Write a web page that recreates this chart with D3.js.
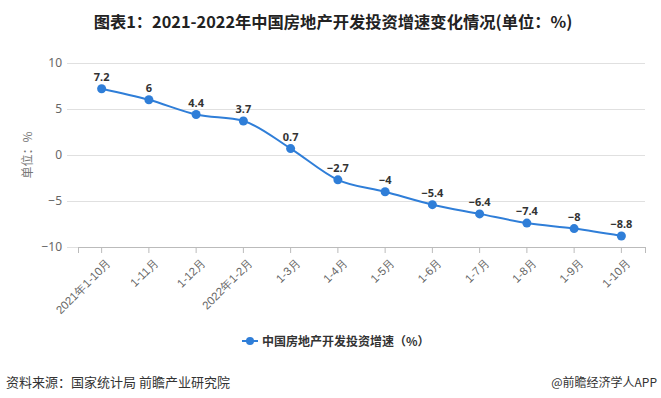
<!DOCTYPE html>
<html><head><meta charset="utf-8">
<script src="https://cdn.jsdelivr.net/npm/d3@7"></script>
<style>body{margin:0;background:#fff;}svg{display:block;font-family:"Noto Sans CJK SC","Noto Sans",sans-serif;}</style>
</head><body><svg id="c" width="661" height="398"></svg>
<script>
const categories = ["2021年1-10月","1-11月","1-12月","2022年1-2月","1-3月","1-4月","1-5月","1-6月","1-7月","1-8月","1-9月","1-10月"];
const values = [7.2, 6, 4.4, 3.7, 0.7, -2.7, -4, -5.4, -6.4, -7.4, -8, -8.8];
const yTicks = [10, 5, 0, -5, -10];
const seriesName = "中国房地产开发投资增速（%）";
const color = "#2f7ed8";

const svg = d3.select("#c");
svg.append("rect").attr("width",661).attr("height",398).attr("fill","#fff");

const x = d3.scaleBand().domain(categories).range([78, 645]);
const y = d3.scaleLinear().domain([-10, 10]).range([247, 63]);

// title
svg.append("text").attr("x", 333).attr("y", 28).attr("text-anchor","middle")
  .attr("font-size", 16.3).attr("font-weight","bold").attr("fill","#222")
  .text("图表1：2021-2022年中国房地产开发投资增速变化情况(单位：%)");

// gridlines
svg.append("g").selectAll("line").data(yTicks).join("line")
  .attr("x1", 67).attr("x2", 645).attr("y1", d=>y(d)).attr("y2", d=>y(d))
  .attr("stroke", "#e0e0e0").attr("stroke-width", 1).attr("shape-rendering","crispEdges");

// y axis
const ya = svg.append("g").attr("transform","translate(67,0)")
  .call(d3.axisLeft(y).tickValues(yTicks).tickSize(0).tickPadding(5));
ya.select(".domain").remove();
ya.selectAll("text").attr("font-size", 12).attr("fill","#666").attr("font-family","\"Noto Sans\",sans-serif");

svg.append("text").attr("transform","translate(32,155) rotate(-90)")
  .attr("text-anchor","middle").attr("font-size",12).attr("fill","#777").text("单位：%");

// x axis
const xa = svg.append("g").attr("transform",`translate(0,${y(-10)})`)
  .call(d3.axisBottom(x).tickSizeOuter(0).tickSize(6));
xa.select(".domain").attr("stroke","#bbb").attr("shape-rendering","crispEdges");
xa.selectAll(".tick line").attr("stroke","#bbb");
xa.selectAll("text").attr("font-size", 11.5).attr("fill","#666")
  .attr("text-anchor","end").attr("dy", 0)
  .attr("transform","translate(4,10) rotate(-45)");

// line
const cx = (d,i)=> x(categories[i]) + x.bandwidth()/2;
const line = d3.line().x((d,i)=>cx(d,i)).y(d=>y(d)).curve(d3.curveMonotoneX);
svg.append("path").datum(values).attr("d", line).attr("fill","none")
  .attr("stroke", color).attr("stroke-width", 2);

svg.append("g").selectAll("circle").data(values).join("circle")
  .attr("cx",(d,i)=>cx(d,i)).attr("cy",d=>y(d)).attr("r",4.5).attr("fill",color);

svg.append("g").selectAll("text").data(values).join("text")
  .attr("x",(d,i)=>cx(d,i)).attr("y",d=>y(d)-8).attr("text-anchor","middle")
  .attr("font-size", 11).attr("font-weight","bold").attr("fill","#333")
  .attr("font-family","\"Noto Sans\",sans-serif")
  .text(d=> d<0 ? "−"+Math.abs(d) : String(d));

// legend
const lg = svg.append("g").attr("transform","translate(242,341)");
lg.append("line").attr("x1",0).attr("x2",16).attr("stroke",color).attr("stroke-width",2);
lg.append("circle").attr("cx",8).attr("r",4).attr("fill",color);
lg.append("text").attr("x",20).attr("y",4.5).attr("font-size",12).attr("font-weight","bold")
  .attr("fill","#333").text(seriesName);

// footer
svg.append("text").attr("x",6).attr("y",387).attr("font-size",13).attr("fill","#333").text("资料来源：国家统计局 前瞻产业研究院");
svg.append("text").attr("x",657).attr("y",387).attr("text-anchor","end").attr("font-size",12).attr("fill","#333").text("@前瞻经济学人APP");
</script></body></html>
